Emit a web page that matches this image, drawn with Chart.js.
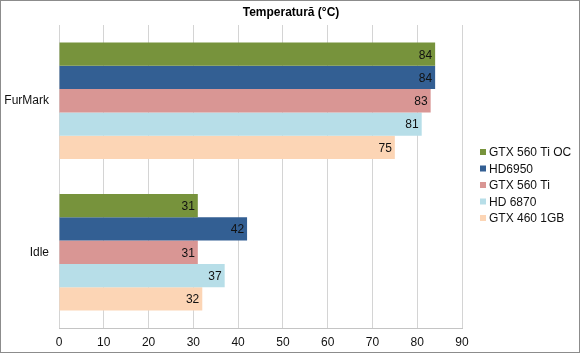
<!DOCTYPE html>
<html>
<head>
<meta charset="utf-8">
<script src="https://cdn.jsdelivr.net/npm/chart.js@4"></script>
<style>
  html, body { margin: 0; padding: 0; background: #fff; }
  #wrap { width: 580px; height: 354px; }
</style>
</head>
<body>
<div id="wrap"><canvas id="tempChart" width="580" height="354"></canvas></div>
<script>
const categories = ["FurMark", "Idle"];
const seriesNames = ["GTX 560 Ti OC", "HD6950", "GTX 560 Ti", "HD 6870", "GTX 460 1GB"];
const gtx560TiOC = [84, 31];
const hd6950 = [84, 42];
const gtx560Ti = [83, 31];
const hd6870 = [81, 37];
const gtx460 = [75, 32];
const xTicks = [0, 10, 20, 30, 40, 50, 60, 70, 80, 90];
const chartTitle = "Temperatură (°C)";

const colors = ["#77933C", "#335F93", "#D99694", "#B7DEE8", "#FCD5B5"];
const seriesValues = [gtx560TiOC, hd6950, gtx560Ti, hd6870, gtx460];
const FONT = "'Liberation Sans', Arial, sans-serif";

// white background, frame, and title centred on the whole picture
const framePlugin = {
  id: "frame",
  beforeDraw(chart) {
    const ctx = chart.ctx;
    ctx.save();
    ctx.fillStyle = "#fff";
    ctx.fillRect(0, 0, chart.width, chart.height);
    ctx.strokeStyle = "#8c8c8c";
    ctx.lineWidth = 1;
    ctx.strokeRect(0.5, 0.5, chart.width - 1, chart.height - 2);
    ctx.font = "bold 12px " + FONT;
    ctx.fillStyle = "#000";
    ctx.textAlign = "center";
    ctx.textBaseline = "middle";
    ctx.fillText(chartTitle, 291, 13);
    ctx.restore();
  },
};

// values written inside the bar end
const valueLabels = {
  id: "valueLabels",
  afterDatasetsDraw(chart) {
    const ctx = chart.ctx;
    ctx.save();
    ctx.font = "12px " + FONT;
    ctx.fillStyle = "#111";
    ctx.textAlign = "right";
    ctx.textBaseline = "middle";
    chart.data.datasets.forEach((ds, i) => {
      chart.getDatasetMeta(i).data.forEach((bar, j) => {
        ctx.fillText(String(ds.data[j]), bar.x - 3, bar.y + 1);
      });
    });
    ctx.restore();
  },
};

// legend on the right, small squares
const sideLegend = {
  id: "sideLegend",
  afterDraw(chart) {
    const ctx = chart.ctx;
    ctx.save();
    ctx.font = "12px " + FONT;
    ctx.textBaseline = "middle";
    ctx.textAlign = "left";
    chart.data.datasets.forEach((ds, i) => {
      const y = 152 + i * 16.5;
      ctx.fillStyle = ds.backgroundColor;
      ctx.fillRect(480, y - 3, 6, 6);
      ctx.fillStyle = "#111";
      ctx.fillText(ds.label, 489, y + 1);
    });
    ctx.restore();
  },
};

new Chart(document.getElementById("tempChart"), {
  type: "bar",
  data: {
    labels: categories,
    datasets: seriesNames.map((name, i) => ({
      label: name,
      data: seriesValues[i],
      backgroundColor: colors[i],
      borderWidth: 0,
      barPercentage: 1,
      categoryPercentage: 0.768,
    })),
  },
  options: {
    indexAxis: "y",
    responsive: false,
    animation: false,
    layout: { padding: { top: 25, right: 118, bottom: 0, left: 0 } },
    scales: {
      x: {
        min: 0,
        max: 90,
        afterBuildTicks(scale) {
          scale.ticks = xTicks.map(v => ({ value: v }));
        },
        afterFit(scale) { scale.height = 26; },
        grid: { color: "#d4d4d4", drawTicks: false },
        border: { color: "#c4c4c4" },
        ticks: { color: "#111", padding: 7, font: { size: 12, family: FONT } },
      },
      y: {
        afterFit(scale) { scale.width = 59; },
        grid: { display: false, drawTicks: false },
        border: { display: false },
        ticks: { color: "#111", padding: 10, font: { size: 12, family: FONT } },
      },
    },
    plugins: {
      legend: { display: false },
      tooltip: { enabled: false },
      title: { display: false },
    },
  },
  plugins: [framePlugin, valueLabels, sideLegend],
});
</script>
</body>
</html>
